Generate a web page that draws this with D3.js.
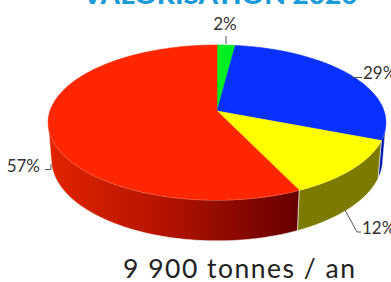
<!DOCTYPE html>
<html><head><meta charset="utf-8">
<script src="https://cdn.jsdelivr.net/npm/d3@7"></script>
<style>html,body{margin:0;padding:0;background:#fff;overflow:hidden}svg{display:block}</style>
</head><body>
<script>
const categories = ["Vert", "Bleu", "Jaune", "Rouge"];
const values = [2, 29, 12, 57];
const labels = ["2%", "29%", "12%", "57%"];
const topColors = ["#00ee22", "#0830ff", "#ffff00", "#ff2600"];
const sideColors = ["#007a10", "#0018a8", "#7d7a00", "url(#redSide)"];
const title = "VALORISATION 2020";
const subtitle = "9 900 tonnes / an";

const W = 391, Hh = 282;
const svg = d3.select("body").append("svg").attr("width", W).attr("height", Hh);
const defs = svg.append("defs");
const g1 = defs.append("linearGradient").attr("id", "redSide").attr("gradientUnits", "userSpaceOnUse")
  .attr("x1", 48).attr("x2", 297).attr("y1", 0).attr("y2", 0);
g1.append("stop").attr("offset", 0).attr("stop-color", "#e22400");
g1.append("stop").attr("offset", 0.5).attr("stop-color", "#b01200");
g1.append("stop").attr("offset", 1).attr("stop-color", "#680000");

// perspective parameters
const cx = 217, cy = 111;
const S = 0.454, C = Math.sqrt(1 - S * S), D = 6.01, F = 1004, Hd = 0.25;
function proj(theta, h) {
  const u = Math.sin(theta), v = Math.cos(theta);
  const yUp = v * S + h * C;
  const z = D + v * C - h * S;
  return [cx + F * u / z, cy - F * yUp / z];
}
function arcPts(a0, a1, h) {
  const n = Math.max(2, Math.ceil(Math.abs(a1 - a0) / 0.02));
  return d3.range(n + 1).map(i => proj(a0 + (a1 - a0) * i / n, h));
}

const pie = d3.pie().sort(null).startAngle(0).endAngle(2 * Math.PI);
const arcs = pie(values);

const tv = Math.acos(-1 / (D * C));
const vis0 = tv, vis1 = 2 * Math.PI - tv;

const line = d3.line();
// sides
arcs.forEach((a, i) => {
  const s = Math.max(a.startAngle, vis0), e = Math.min(a.endAngle, vis1);
  if (e <= s) return;
  const pts = arcPts(s, e, 0).concat(arcPts(e, s, -Hd));
  svg.append("path").attr("d", line(pts) + "Z")
    .attr("fill", sideColors[i]).attr("stroke", "#ffffff").attr("stroke-width", 0.7)
    .attr("stroke-opacity", 0.8).attr("stroke-linejoin", "round");
});
// top faces
arcs.forEach((a, i) => {
  const pts = [[cx, cy]].concat(arcPts(a.startAngle, a.endAngle, 0));
  svg.append("path").attr("d", line(pts) + "Z")
    .attr("fill", topColors[i]).attr("stroke", topColors[i]).attr("stroke-width", 0.5);
});

// labels
const lab = svg.append("g").attr("font-family", "Lato, 'Open Sans', sans-serif")
  .attr("font-size", 17).attr("fill", "#333");
const leaders = [
  [[226, 36], [226, 44]],
  [[352, 77.5], [362, 77.5]],
  [[345, 210], [357, 232], [361, 232]],
  [[45, 169.5], [51, 169.5], [51, 164]]
];
const labelPos = [
  {x: 225, y: 30, anchor: "middle"},
  {x: 363, y: 79, anchor: "start"},
  {x: 362, y: 234, anchor: "start"},
  {x: 40, y: 172, anchor: "end"}
];
leaders.forEach(l => {
  svg.append("path").attr("d", line(l)).attr("fill", "none").attr("stroke", "#555").attr("stroke-width", 1);
});
labels.forEach((t, i) => {
  lab.append("text").attr("x", labelPos[i].x).attr("y", labelPos[i].y)
    .attr("text-anchor", labelPos[i].anchor).text(t);
});

svg.append("text").attr("x", 220).attr("y", 4).attr("text-anchor", "middle")
  .attr("font-family", "Lato, sans-serif").attr("font-weight", 900).attr("font-size", 25)
  .attr("fill", "#1a9ad8").attr("textLength", 275).attr("lengthAdjust", "spacingAndGlyphs").text(title);

svg.append("text").attr("x", 239).attr("y", 278).attr("text-anchor", "middle")
  .attr("font-family", "Lato, sans-serif").attr("font-size", 26.5)
  .attr("fill", "#222").attr("textLength", 232).attr("lengthAdjust", "spacing").text(subtitle);
</script>
</body></html>
